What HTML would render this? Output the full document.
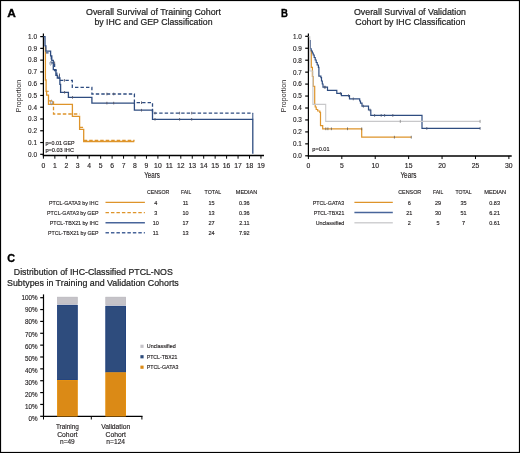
<!DOCTYPE html>
<html><head><meta charset="utf-8"><style>
html,body{margin:0;padding:0;background:#fff;}
body{width:520px;height:453px;overflow:hidden;}
svg{display:block;font-family:"Liberation Sans",sans-serif;will-change:transform;}
</style></head><body>
<svg width="520" height="453" viewBox="0 0 520 453">
<rect x="0" y="0" width="520" height="453" fill="#fff"/>
<text x="7.2" y="16.6" font-size="11.2" text-anchor="start" font-weight="bold" fill="#000" textLength="8.6" lengthAdjust="spacingAndGlyphs" stroke="#000" stroke-width="0.35">A</text>
<text x="281.0" y="17.2" font-size="11.2" text-anchor="start" font-weight="bold" fill="#000" textLength="6.9" lengthAdjust="spacingAndGlyphs" stroke="#000" stroke-width="0.35">B</text>
<text x="7.3" y="261.6" font-size="11.6" text-anchor="start" font-weight="bold" fill="#000" textLength="7.8" lengthAdjust="spacingAndGlyphs" stroke="#000" stroke-width="0.35">C</text>
<text x="86" y="14.8" font-size="9.4" text-anchor="start" font-weight="normal" fill="#1E1E1E" textLength="135" lengthAdjust="spacingAndGlyphs" stroke="#1E1E1E" stroke-width="0.22">Overall Survival of Training Cohort</text>
<text x="94.5" y="25.0" font-size="9.4" text-anchor="start" font-weight="normal" fill="#1E1E1E" textLength="118" lengthAdjust="spacingAndGlyphs" stroke="#1E1E1E" stroke-width="0.22">by IHC and GEP Classification</text>
<text x="354" y="14.6" font-size="9.4" text-anchor="start" font-weight="normal" fill="#1E1E1E" textLength="112" lengthAdjust="spacingAndGlyphs" stroke="#1E1E1E" stroke-width="0.22">Overall Survival of Validation</text>
<text x="355.3" y="24.8" font-size="9.4" text-anchor="start" font-weight="normal" fill="#1E1E1E" textLength="110" lengthAdjust="spacingAndGlyphs" stroke="#1E1E1E" stroke-width="0.22">Cohort by IHC Classification</text>
<text x="13.8" y="275.3" font-size="9.4" text-anchor="start" font-weight="normal" fill="#1E1E1E" textLength="159" lengthAdjust="spacingAndGlyphs" stroke="#1E1E1E" stroke-width="0.22">Distribution of IHC-Classified PTCL-NOS</text>
<text x="7.0" y="285.5" font-size="9.4" text-anchor="start" font-weight="normal" fill="#1E1E1E" textLength="171.8" lengthAdjust="spacingAndGlyphs" stroke="#1E1E1E" stroke-width="0.22">Subtypes in Training and Validation Cohorts</text>
<line x1="43.4" y1="33.6" x2="43.4" y2="156.3" stroke="#000" stroke-width="1.2" />
<line x1="40.199999999999996" y1="36.6" x2="43.4" y2="36.6" stroke="#000" stroke-width="1.2" />
<text x="37.0" y="38.95" font-size="7.2" text-anchor="end" font-weight="normal" fill="#231F20" textLength="8.9" lengthAdjust="spacingAndGlyphs" stroke="#231F20" stroke-width="0.15">1.0</text>
<line x1="40.199999999999996" y1="48.370000000000005" x2="43.4" y2="48.370000000000005" stroke="#000" stroke-width="1.2" />
<text x="37.0" y="50.720000000000006" font-size="7.2" text-anchor="end" font-weight="normal" fill="#231F20" textLength="8.9" lengthAdjust="spacingAndGlyphs" stroke="#231F20" stroke-width="0.15">0.9</text>
<line x1="40.199999999999996" y1="60.14" x2="43.4" y2="60.14" stroke="#000" stroke-width="1.2" />
<text x="37.0" y="62.49" font-size="7.2" text-anchor="end" font-weight="normal" fill="#231F20" textLength="8.9" lengthAdjust="spacingAndGlyphs" stroke="#231F20" stroke-width="0.15">0.8</text>
<line x1="40.199999999999996" y1="71.91" x2="43.4" y2="71.91" stroke="#000" stroke-width="1.2" />
<text x="37.0" y="74.25999999999999" font-size="7.2" text-anchor="end" font-weight="normal" fill="#231F20" textLength="8.9" lengthAdjust="spacingAndGlyphs" stroke="#231F20" stroke-width="0.15">0.7</text>
<line x1="40.199999999999996" y1="83.68" x2="43.4" y2="83.68" stroke="#000" stroke-width="1.2" />
<text x="37.0" y="86.03" font-size="7.2" text-anchor="end" font-weight="normal" fill="#231F20" textLength="8.9" lengthAdjust="spacingAndGlyphs" stroke="#231F20" stroke-width="0.15">0.6</text>
<line x1="40.199999999999996" y1="95.44999999999999" x2="43.4" y2="95.44999999999999" stroke="#000" stroke-width="1.2" />
<text x="37.0" y="97.79999999999998" font-size="7.2" text-anchor="end" font-weight="normal" fill="#231F20" textLength="8.9" lengthAdjust="spacingAndGlyphs" stroke="#231F20" stroke-width="0.15">0.5</text>
<line x1="40.199999999999996" y1="107.22" x2="43.4" y2="107.22" stroke="#000" stroke-width="1.2" />
<text x="37.0" y="109.57" font-size="7.2" text-anchor="end" font-weight="normal" fill="#231F20" textLength="8.9" lengthAdjust="spacingAndGlyphs" stroke="#231F20" stroke-width="0.15">0.4</text>
<line x1="40.199999999999996" y1="118.99000000000001" x2="43.4" y2="118.99000000000001" stroke="#000" stroke-width="1.2" />
<text x="37.0" y="121.34" font-size="7.2" text-anchor="end" font-weight="normal" fill="#231F20" textLength="8.9" lengthAdjust="spacingAndGlyphs" stroke="#231F20" stroke-width="0.15">0.3</text>
<line x1="40.199999999999996" y1="130.76" x2="43.4" y2="130.76" stroke="#000" stroke-width="1.2" />
<text x="37.0" y="133.10999999999999" font-size="7.2" text-anchor="end" font-weight="normal" fill="#231F20" textLength="8.9" lengthAdjust="spacingAndGlyphs" stroke="#231F20" stroke-width="0.15">0.2</text>
<line x1="40.199999999999996" y1="142.53" x2="43.4" y2="142.53" stroke="#000" stroke-width="1.2" />
<text x="37.0" y="144.88" font-size="7.2" text-anchor="end" font-weight="normal" fill="#231F20" textLength="8.9" lengthAdjust="spacingAndGlyphs" stroke="#231F20" stroke-width="0.15">0.1</text>
<line x1="40.199999999999996" y1="154.29999999999998" x2="43.4" y2="154.29999999999998" stroke="#000" stroke-width="1.2" />
<text x="37.0" y="156.64999999999998" font-size="7.2" text-anchor="end" font-weight="normal" fill="#231F20" textLength="8.9" lengthAdjust="spacingAndGlyphs" stroke="#231F20" stroke-width="0.15">0.0</text>
<line x1="42.8" y1="155.6" x2="264" y2="155.6" stroke="#000" stroke-width="1.5" />
<line x1="43.4" y1="155.6" x2="43.4" y2="158.7" stroke="#000" stroke-width="1.0" />
<text x="43.4" y="167.7" font-size="6.8" text-anchor="middle" font-weight="normal" fill="#231F20" stroke="#231F20" stroke-width="0.15">0</text>
<line x1="54.849999999999994" y1="155.6" x2="54.849999999999994" y2="158.7" stroke="#000" stroke-width="1.0" />
<text x="54.849999999999994" y="167.7" font-size="6.8" text-anchor="middle" font-weight="normal" fill="#231F20" stroke="#231F20" stroke-width="0.15">1</text>
<line x1="66.3" y1="155.6" x2="66.3" y2="158.7" stroke="#000" stroke-width="1.0" />
<text x="66.3" y="167.7" font-size="6.8" text-anchor="middle" font-weight="normal" fill="#231F20" stroke="#231F20" stroke-width="0.15">2</text>
<line x1="77.75" y1="155.6" x2="77.75" y2="158.7" stroke="#000" stroke-width="1.0" />
<text x="77.75" y="167.7" font-size="6.8" text-anchor="middle" font-weight="normal" fill="#231F20" stroke="#231F20" stroke-width="0.15">3</text>
<line x1="89.19999999999999" y1="155.6" x2="89.19999999999999" y2="158.7" stroke="#000" stroke-width="1.0" />
<text x="89.19999999999999" y="167.7" font-size="6.8" text-anchor="middle" font-weight="normal" fill="#231F20" stroke="#231F20" stroke-width="0.15">4</text>
<line x1="100.65" y1="155.6" x2="100.65" y2="158.7" stroke="#000" stroke-width="1.0" />
<text x="100.65" y="167.7" font-size="6.8" text-anchor="middle" font-weight="normal" fill="#231F20" stroke="#231F20" stroke-width="0.15">5</text>
<line x1="112.1" y1="155.6" x2="112.1" y2="158.7" stroke="#000" stroke-width="1.0" />
<text x="112.1" y="167.7" font-size="6.8" text-anchor="middle" font-weight="normal" fill="#231F20" stroke="#231F20" stroke-width="0.15">6</text>
<line x1="123.54999999999998" y1="155.6" x2="123.54999999999998" y2="158.7" stroke="#000" stroke-width="1.0" />
<text x="123.54999999999998" y="167.7" font-size="6.8" text-anchor="middle" font-weight="normal" fill="#231F20" stroke="#231F20" stroke-width="0.15">7</text>
<line x1="135.0" y1="155.6" x2="135.0" y2="158.7" stroke="#000" stroke-width="1.0" />
<text x="135.0" y="167.7" font-size="6.8" text-anchor="middle" font-weight="normal" fill="#231F20" stroke="#231F20" stroke-width="0.15">8</text>
<line x1="146.45" y1="155.6" x2="146.45" y2="158.7" stroke="#000" stroke-width="1.0" />
<text x="146.45" y="167.7" font-size="6.8" text-anchor="middle" font-weight="normal" fill="#231F20" stroke="#231F20" stroke-width="0.15">9</text>
<line x1="157.9" y1="155.6" x2="157.9" y2="158.7" stroke="#000" stroke-width="1.0" />
<text x="157.9" y="167.7" font-size="6.8" text-anchor="middle" font-weight="normal" fill="#231F20" stroke="#231F20" stroke-width="0.15">10</text>
<line x1="169.35" y1="155.6" x2="169.35" y2="158.7" stroke="#000" stroke-width="1.0" />
<text x="169.35" y="167.7" font-size="6.8" text-anchor="middle" font-weight="normal" fill="#231F20" stroke="#231F20" stroke-width="0.15">11</text>
<line x1="180.79999999999998" y1="155.6" x2="180.79999999999998" y2="158.7" stroke="#000" stroke-width="1.0" />
<text x="180.79999999999998" y="167.7" font-size="6.8" text-anchor="middle" font-weight="normal" fill="#231F20" stroke="#231F20" stroke-width="0.15">12</text>
<line x1="192.25" y1="155.6" x2="192.25" y2="158.7" stroke="#000" stroke-width="1.0" />
<text x="192.25" y="167.7" font-size="6.8" text-anchor="middle" font-weight="normal" fill="#231F20" stroke="#231F20" stroke-width="0.15">13</text>
<line x1="203.7" y1="155.6" x2="203.7" y2="158.7" stroke="#000" stroke-width="1.0" />
<text x="203.7" y="167.7" font-size="6.8" text-anchor="middle" font-weight="normal" fill="#231F20" stroke="#231F20" stroke-width="0.15">14</text>
<line x1="215.15" y1="155.6" x2="215.15" y2="158.7" stroke="#000" stroke-width="1.0" />
<text x="215.15" y="167.7" font-size="6.8" text-anchor="middle" font-weight="normal" fill="#231F20" stroke="#231F20" stroke-width="0.15">15</text>
<line x1="226.6" y1="155.6" x2="226.6" y2="158.7" stroke="#000" stroke-width="1.0" />
<text x="226.6" y="167.7" font-size="6.8" text-anchor="middle" font-weight="normal" fill="#231F20" stroke="#231F20" stroke-width="0.15">16</text>
<line x1="238.04999999999998" y1="155.6" x2="238.04999999999998" y2="158.7" stroke="#000" stroke-width="1.0" />
<text x="238.04999999999998" y="167.7" font-size="6.8" text-anchor="middle" font-weight="normal" fill="#231F20" stroke="#231F20" stroke-width="0.15">17</text>
<line x1="249.5" y1="155.6" x2="249.5" y2="158.7" stroke="#000" stroke-width="1.0" />
<text x="249.5" y="167.7" font-size="6.8" text-anchor="middle" font-weight="normal" fill="#231F20" stroke="#231F20" stroke-width="0.15">18</text>
<line x1="260.95" y1="155.6" x2="260.95" y2="158.7" stroke="#000" stroke-width="1.0" />
<text x="260.95" y="167.7" font-size="6.8" text-anchor="middle" font-weight="normal" fill="#231F20" stroke="#231F20" stroke-width="0.15">19</text>
<text x="0" y="0" font-size="7.7" fill="#231F20" text-anchor="middle" transform="translate(21.3,96) rotate(-90)" textLength="32.3" lengthAdjust="spacingAndGlyphs">Proportion</text>
<text x="152.0" y="177.6" font-size="8.3" text-anchor="middle" font-weight="normal" fill="#231F20" textLength="15.7" lengthAdjust="spacingAndGlyphs" stroke="#231F20" stroke-width="0.15">Years</text>
<line x1="308.4" y1="33.6" x2="308.4" y2="156.3" stroke="#000" stroke-width="1.2" />
<line x1="305.2" y1="36.3" x2="308.4" y2="36.3" stroke="#000" stroke-width="1.2" />
<text x="301.9" y="38.65" font-size="7.2" text-anchor="end" font-weight="normal" fill="#231F20" textLength="8.9" lengthAdjust="spacingAndGlyphs" stroke="#231F20" stroke-width="0.15">1.0</text>
<line x1="305.2" y1="48.25" x2="308.4" y2="48.25" stroke="#000" stroke-width="1.2" />
<text x="301.9" y="50.6" font-size="7.2" text-anchor="end" font-weight="normal" fill="#231F20" textLength="8.9" lengthAdjust="spacingAndGlyphs" stroke="#231F20" stroke-width="0.15">0.9</text>
<line x1="305.2" y1="60.199999999999996" x2="308.4" y2="60.199999999999996" stroke="#000" stroke-width="1.2" />
<text x="301.9" y="62.55" font-size="7.2" text-anchor="end" font-weight="normal" fill="#231F20" textLength="8.9" lengthAdjust="spacingAndGlyphs" stroke="#231F20" stroke-width="0.15">0.8</text>
<line x1="305.2" y1="72.14999999999999" x2="308.4" y2="72.14999999999999" stroke="#000" stroke-width="1.2" />
<text x="301.9" y="74.49999999999999" font-size="7.2" text-anchor="end" font-weight="normal" fill="#231F20" textLength="8.9" lengthAdjust="spacingAndGlyphs" stroke="#231F20" stroke-width="0.15">0.7</text>
<line x1="305.2" y1="84.1" x2="308.4" y2="84.1" stroke="#000" stroke-width="1.2" />
<text x="301.9" y="86.44999999999999" font-size="7.2" text-anchor="end" font-weight="normal" fill="#231F20" textLength="8.9" lengthAdjust="spacingAndGlyphs" stroke="#231F20" stroke-width="0.15">0.6</text>
<line x1="305.2" y1="96.05" x2="308.4" y2="96.05" stroke="#000" stroke-width="1.2" />
<text x="301.9" y="98.39999999999999" font-size="7.2" text-anchor="end" font-weight="normal" fill="#231F20" textLength="8.9" lengthAdjust="spacingAndGlyphs" stroke="#231F20" stroke-width="0.15">0.5</text>
<line x1="305.2" y1="107.99999999999999" x2="308.4" y2="107.99999999999999" stroke="#000" stroke-width="1.2" />
<text x="301.9" y="110.34999999999998" font-size="7.2" text-anchor="end" font-weight="normal" fill="#231F20" textLength="8.9" lengthAdjust="spacingAndGlyphs" stroke="#231F20" stroke-width="0.15">0.4</text>
<line x1="305.2" y1="119.94999999999999" x2="308.4" y2="119.94999999999999" stroke="#000" stroke-width="1.2" />
<text x="301.9" y="122.29999999999998" font-size="7.2" text-anchor="end" font-weight="normal" fill="#231F20" textLength="8.9" lengthAdjust="spacingAndGlyphs" stroke="#231F20" stroke-width="0.15">0.3</text>
<line x1="305.2" y1="131.89999999999998" x2="308.4" y2="131.89999999999998" stroke="#000" stroke-width="1.2" />
<text x="301.9" y="134.24999999999997" font-size="7.2" text-anchor="end" font-weight="normal" fill="#231F20" textLength="8.9" lengthAdjust="spacingAndGlyphs" stroke="#231F20" stroke-width="0.15">0.2</text>
<line x1="305.2" y1="143.85" x2="308.4" y2="143.85" stroke="#000" stroke-width="1.2" />
<text x="301.9" y="146.2" font-size="7.2" text-anchor="end" font-weight="normal" fill="#231F20" textLength="8.9" lengthAdjust="spacingAndGlyphs" stroke="#231F20" stroke-width="0.15">0.1</text>
<line x1="305.2" y1="155.8" x2="308.4" y2="155.8" stroke="#000" stroke-width="1.2" />
<text x="301.9" y="158.15" font-size="7.2" text-anchor="end" font-weight="normal" fill="#231F20" textLength="8.9" lengthAdjust="spacingAndGlyphs" stroke="#231F20" stroke-width="0.15">0.0</text>
<line x1="307.79999999999995" y1="155.95" x2="511.7" y2="155.95" stroke="#000" stroke-width="1.5" />
<line x1="308.4" y1="155.95" x2="308.4" y2="159.04999999999998" stroke="#000" stroke-width="1.0" />
<text x="308.4" y="167.7" font-size="6.8" text-anchor="middle" font-weight="normal" fill="#231F20" stroke="#231F20" stroke-width="0.15">0</text>
<line x1="341.815" y1="155.95" x2="341.815" y2="159.04999999999998" stroke="#000" stroke-width="1.0" />
<text x="341.815" y="167.7" font-size="6.8" text-anchor="middle" font-weight="normal" fill="#231F20" stroke="#231F20" stroke-width="0.15">5</text>
<line x1="375.22999999999996" y1="155.95" x2="375.22999999999996" y2="159.04999999999998" stroke="#000" stroke-width="1.0" />
<text x="375.22999999999996" y="167.7" font-size="6.8" text-anchor="middle" font-weight="normal" fill="#231F20" stroke="#231F20" stroke-width="0.15">10</text>
<line x1="408.645" y1="155.95" x2="408.645" y2="159.04999999999998" stroke="#000" stroke-width="1.0" />
<text x="408.645" y="167.7" font-size="6.8" text-anchor="middle" font-weight="normal" fill="#231F20" stroke="#231F20" stroke-width="0.15">15</text>
<line x1="442.05999999999995" y1="155.95" x2="442.05999999999995" y2="159.04999999999998" stroke="#000" stroke-width="1.0" />
<text x="442.05999999999995" y="167.7" font-size="6.8" text-anchor="middle" font-weight="normal" fill="#231F20" stroke="#231F20" stroke-width="0.15">20</text>
<line x1="475.47499999999997" y1="155.95" x2="475.47499999999997" y2="159.04999999999998" stroke="#000" stroke-width="1.0" />
<text x="475.47499999999997" y="167.7" font-size="6.8" text-anchor="middle" font-weight="normal" fill="#231F20" stroke="#231F20" stroke-width="0.15">25</text>
<line x1="508.89" y1="155.95" x2="508.89" y2="159.04999999999998" stroke="#000" stroke-width="1.0" />
<text x="508.89" y="167.7" font-size="6.8" text-anchor="middle" font-weight="normal" fill="#231F20" stroke="#231F20" stroke-width="0.15">30</text>
<text x="0" y="0" font-size="7.7" fill="#231F20" text-anchor="middle" transform="translate(286.3,96) rotate(-90)" textLength="32.3" lengthAdjust="spacingAndGlyphs">Proportion</text>
<text x="408.5" y="177.6" font-size="8.3" text-anchor="middle" font-weight="normal" fill="#231F20" textLength="16.1" lengthAdjust="spacingAndGlyphs" stroke="#231F20" stroke-width="0.15">Years</text>
<path d="M45.4,46.5 V80 H46.1 V91.3 H46.6 V95.1 H48.5 V104.4 H72.4 V116.4 H79.6 V129.4 H83.7 V141.5 H134.3" fill="none" stroke="#DE942A" stroke-width="1.3" />
<line x1="46.1" y1="91.3" x2="48.8" y2="91.3" stroke="#DE942A" stroke-width="1.0" />
<ellipse cx="51.6" cy="102.4" rx="0.9" ry="2.2" fill="none" stroke="#7A8599" stroke-width="0.9"/>
<path d="M48.5,100.8 H53.5 V114.0 H79.6" fill="none" stroke="#DE942A" stroke-width="1.3" stroke-dasharray="3.5,2"/>
<path d="M79.6,127.3 H83.7 M83.7,140.5 H134.6" fill="none" stroke="#DE942A" stroke-width="1.3" stroke-dasharray="3.5,2"/>
<path d="M43.4,36.6 H45.0 V45.9 H45.9 V51.1 H50.6 V55.9 H51.8 V60.4 H53.3 V69.6 H55.9 V75.4 H57.3 V78.0 H59.9 V84.3 H60.6 V92.3 H68.4 V97.4 H91.9 V103.1 H134.4 V110.2 H152.5 V119.3 H252.8 V153.7" fill="none" stroke="#2E4C80" stroke-width="1.3" />
<line x1="252.8" y1="113.0" x2="252.8" y2="119.3" stroke="#2E4C80" stroke-width="1.0" />
<path d="M45.9,52.8 H48.6 M51.3,56 V62.8 H54.6 V70.5 H56.8 V76 H59.2 V80.4 H72.3 V87.3 H91.9 V94.0 H134.4 V102.7  H152.5 V113.1 H253.1" fill="none" stroke="#2E4C80" stroke-width="1.3" stroke-dasharray="3.4,2.1"/>
<ellipse cx="50.6" cy="63.4" rx="0.8" ry="1.8" fill="none" stroke="#8A93A3" stroke-width="0.8"/>
<line x1="54.6" y1="61.5" x2="54.6" y2="64.1" stroke="#556" stroke-width="0.9" />
<line x1="59.5" y1="73.5" x2="59.5" y2="76.1" stroke="#556" stroke-width="0.9" />
<line x1="64.4" y1="79.10000000000001" x2="64.4" y2="81.7" stroke="#556" stroke-width="0.9" />
<line x1="64.6" y1="91.0" x2="64.6" y2="93.6" stroke="#556" stroke-width="0.9" />
<line x1="72.5" y1="96.10000000000001" x2="72.5" y2="98.7" stroke="#556" stroke-width="0.9" />
<line x1="106.9" y1="101.8" x2="106.9" y2="104.39999999999999" stroke="#556" stroke-width="0.9" />
<line x1="113.7" y1="101.8" x2="113.7" y2="104.39999999999999" stroke="#556" stroke-width="0.9" />
<line x1="141.5" y1="108.9" x2="141.5" y2="111.5" stroke="#556" stroke-width="0.9" />
<line x1="155" y1="118.0" x2="155" y2="120.6" stroke="#556" stroke-width="0.9" />
<line x1="179.6" y1="118.0" x2="179.6" y2="120.6" stroke="#556" stroke-width="0.9" />
<line x1="191.7" y1="118.0" x2="191.7" y2="120.6" stroke="#556" stroke-width="0.9" />
<line x1="106.9" y1="92.7" x2="106.9" y2="95.3" stroke="#556" stroke-width="0.9" />
<line x1="113.7" y1="92.7" x2="113.7" y2="95.3" stroke="#556" stroke-width="0.9" />
<line x1="141.5" y1="101.4" x2="141.5" y2="104.0" stroke="#556" stroke-width="0.9" />
<line x1="155" y1="111.8" x2="155" y2="114.39999999999999" stroke="#556" stroke-width="0.9" />
<line x1="179.6" y1="111.8" x2="179.6" y2="114.39999999999999" stroke="#556" stroke-width="0.9" />
<line x1="191.7" y1="111.8" x2="191.7" y2="114.39999999999999" stroke="#556" stroke-width="0.9" />
<text x="45.4" y="145.0" font-size="5.1" text-anchor="start" font-weight="normal" fill="#231F20" textLength="29.2" lengthAdjust="spacingAndGlyphs" stroke="#231F20" stroke-width="0.15">p=0.01 GEP</text>
<text x="45.4" y="152.2" font-size="5.1" text-anchor="start" font-weight="normal" fill="#231F20" textLength="28.6" lengthAdjust="spacingAndGlyphs" stroke="#231F20" stroke-width="0.15">p=0.03 IHC</text>
<path d="M310.2,50.6 H311.3 V67.3 H312.4 V76.5 H313.3 V86.4 H314.7 V104.3 H315.2 V107 H316.2 V109.5 H317.7 V111 H319.8 V112.3 H320.5 V125.6 H322.7 V128.8 H361.7 V137.2 H411.3" fill="none" stroke="#DE942A" stroke-width="1.2" />
<line x1="325.8" y1="127.4" x2="325.8" y2="130.20000000000002" stroke="#555" stroke-width="0.7" />
<line x1="327.9" y1="127.4" x2="327.9" y2="130.20000000000002" stroke="#555" stroke-width="0.7" />
<line x1="331.4" y1="127.4" x2="331.4" y2="130.20000000000002" stroke="#555" stroke-width="0.7" />
<line x1="347.5" y1="127.4" x2="347.5" y2="130.20000000000002" stroke="#555" stroke-width="0.7" />
<line x1="361.7" y1="127.4" x2="361.7" y2="130.20000000000002" stroke="#555" stroke-width="0.7" />
<line x1="394.4" y1="135.79999999999998" x2="394.4" y2="138.6" stroke="#555" stroke-width="0.7" />
<line x1="411.3" y1="135.79999999999998" x2="411.3" y2="138.6" stroke="#555" stroke-width="0.7" />
<path d="M310.3,40 V48.8 H311.2 V51 H312.3 V53 H313.2 V55 H314.2 V57.5 H315.2 V60 H316.2 V62.5 H317.2 V65 H318.4 V67.4 H318.9 V76.2 H320.9 V77.6 H321.5 V81 H322.3 V84 H323.0 V87.2 H327.5 V90.3 H336.8 V93.4 H341.4 V95.7 H349.5 V98.9 H359.7 V101 H360.5 V103.1 H362.0 V106.2 H368.5 V110 H370.8 V115.4 H422.0 V128.4 H480.1" fill="none" stroke="#2E4C80" stroke-width="1.2" />
<line x1="324.4" y1="85.8" x2="324.4" y2="88.60000000000001" stroke="#4A5570" stroke-width="0.8" />
<line x1="325.3" y1="85.8" x2="325.3" y2="88.60000000000001" stroke="#4A5570" stroke-width="0.8" />
<line x1="340.4" y1="92.0" x2="340.4" y2="94.80000000000001" stroke="#4A5570" stroke-width="0.8" />
<line x1="348.5" y1="94.3" x2="348.5" y2="97.10000000000001" stroke="#4A5570" stroke-width="0.8" />
<line x1="353.3" y1="97.5" x2="353.3" y2="100.30000000000001" stroke="#4A5570" stroke-width="0.8" />
<line x1="363.4" y1="104.8" x2="363.4" y2="107.60000000000001" stroke="#4A5570" stroke-width="0.8" />
<line x1="370.0" y1="108.6" x2="370.0" y2="111.4" stroke="#4A5570" stroke-width="0.8" />
<line x1="374.6" y1="114.0" x2="374.6" y2="116.80000000000001" stroke="#4A5570" stroke-width="0.8" />
<line x1="381.2" y1="114.0" x2="381.2" y2="116.80000000000001" stroke="#4A5570" stroke-width="0.8" />
<line x1="384.6" y1="114.0" x2="384.6" y2="116.80000000000001" stroke="#4A5570" stroke-width="0.8" />
<line x1="392.8" y1="114.0" x2="392.8" y2="116.80000000000001" stroke="#4A5570" stroke-width="0.8" />
<line x1="426.8" y1="127.0" x2="426.8" y2="129.8" stroke="#4A5570" stroke-width="0.8" />
<line x1="480.1" y1="127.0" x2="480.1" y2="129.8" stroke="#4A5570" stroke-width="0.8" />
<path d="M308.4,36.8 H309.8 V71.0 H312.9 V104.4 H325.7 V121.4 H480.1" fill="none" stroke="#C8C8CA" stroke-width="1.1" />
<line x1="400.3" y1="119.9" x2="400.3" y2="122.9" stroke="#888" stroke-width="0.8" />
<line x1="480.1" y1="119.9" x2="480.1" y2="122.9" stroke="#888" stroke-width="0.8" />
<text x="312.3" y="150.7" font-size="5.3" text-anchor="start" font-weight="normal" fill="#231F20" textLength="17.3" lengthAdjust="spacingAndGlyphs" stroke="#231F20" stroke-width="0.15">p=0.01</text>
<text x="158.1" y="194.1" font-size="5.9" text-anchor="middle" font-weight="normal" fill="#231F20" textLength="22.4" lengthAdjust="spacingAndGlyphs" stroke="#231F20" stroke-width="0.15">CENSOR</text>
<text x="186.1" y="194.1" font-size="5.9" text-anchor="middle" font-weight="normal" fill="#231F20" textLength="10.1" lengthAdjust="spacingAndGlyphs" stroke="#231F20" stroke-width="0.15">FAIL</text>
<text x="212.9" y="194.1" font-size="5.9" text-anchor="middle" font-weight="normal" fill="#231F20" textLength="16.6" lengthAdjust="spacingAndGlyphs" stroke="#231F20" stroke-width="0.15">TOTAL</text>
<text x="246.5" y="194.1" font-size="5.9" text-anchor="middle" font-weight="normal" fill="#231F20" textLength="21.4" lengthAdjust="spacingAndGlyphs" stroke="#231F20" stroke-width="0.15">MEDIAN</text>
<text x="98.5" y="204.5" font-size="5.9" text-anchor="end" font-weight="normal" fill="#231F20" textLength="49.6" lengthAdjust="spacingAndGlyphs" stroke="#231F20" stroke-width="0.15">PTCL-GATA3 by IHC</text>
<path d="M105.5,202.4 H144.9" fill="none" stroke="#DE942A" stroke-width="1.3" />
<text x="155.7" y="204.5" font-size="5.9" text-anchor="middle" font-weight="normal" fill="#231F20" textLength="3.06" lengthAdjust="spacingAndGlyphs" stroke="#231F20" stroke-width="0.15">4</text>
<text x="185.5" y="204.5" font-size="5.9" text-anchor="middle" font-weight="normal" fill="#231F20" textLength="5.71" lengthAdjust="spacingAndGlyphs" stroke="#231F20" stroke-width="0.15">11</text>
<text x="211.5" y="204.5" font-size="5.9" text-anchor="middle" font-weight="normal" fill="#231F20" textLength="6.12" lengthAdjust="spacingAndGlyphs" stroke="#231F20" stroke-width="0.15">15</text>
<text x="244.3" y="204.5" font-size="5.9" text-anchor="middle" font-weight="normal" fill="#231F20" textLength="10.7" lengthAdjust="spacingAndGlyphs" stroke="#231F20" stroke-width="0.15">0.36</text>
<text x="98.5" y="214.63" font-size="5.9" text-anchor="end" font-weight="normal" fill="#231F20" textLength="51.4" lengthAdjust="spacingAndGlyphs" stroke="#231F20" stroke-width="0.15">PTCL-GATA3 by GEP</text>
<path d="M105.5,212.53 H144.9" fill="none" stroke="#DE942A" stroke-width="1.3" stroke-dasharray="3.45,2.02"/>
<text x="155.7" y="214.63" font-size="5.9" text-anchor="middle" font-weight="normal" fill="#231F20" textLength="3.06" lengthAdjust="spacingAndGlyphs" stroke="#231F20" stroke-width="0.15">3</text>
<text x="185.5" y="214.63" font-size="5.9" text-anchor="middle" font-weight="normal" fill="#231F20" textLength="6.12" lengthAdjust="spacingAndGlyphs" stroke="#231F20" stroke-width="0.15">10</text>
<text x="211.5" y="214.63" font-size="5.9" text-anchor="middle" font-weight="normal" fill="#231F20" textLength="6.12" lengthAdjust="spacingAndGlyphs" stroke="#231F20" stroke-width="0.15">13</text>
<text x="244.3" y="214.63" font-size="5.9" text-anchor="middle" font-weight="normal" fill="#231F20" textLength="10.7" lengthAdjust="spacingAndGlyphs" stroke="#231F20" stroke-width="0.15">0.36</text>
<text x="98.5" y="224.76" font-size="5.9" text-anchor="end" font-weight="normal" fill="#231F20" textLength="48.7" lengthAdjust="spacingAndGlyphs" stroke="#231F20" stroke-width="0.15">PTCL-TBX21 by IHC</text>
<path d="M105.5,222.66 H144.9" fill="none" stroke="#48659A" stroke-width="1.45" />
<text x="155.7" y="224.76" font-size="5.9" text-anchor="middle" font-weight="normal" fill="#231F20" textLength="6.12" lengthAdjust="spacingAndGlyphs" stroke="#231F20" stroke-width="0.15">10</text>
<text x="185.5" y="224.76" font-size="5.9" text-anchor="middle" font-weight="normal" fill="#231F20" textLength="6.12" lengthAdjust="spacingAndGlyphs" stroke="#231F20" stroke-width="0.15">17</text>
<text x="211.5" y="224.76" font-size="5.9" text-anchor="middle" font-weight="normal" fill="#231F20" textLength="6.12" lengthAdjust="spacingAndGlyphs" stroke="#231F20" stroke-width="0.15">27</text>
<text x="244.3" y="224.76" font-size="5.9" text-anchor="middle" font-weight="normal" fill="#231F20" textLength="10.3" lengthAdjust="spacingAndGlyphs" stroke="#231F20" stroke-width="0.15">2.11</text>
<text x="98.5" y="234.89000000000001" font-size="5.9" text-anchor="end" font-weight="normal" fill="#231F20" textLength="50.5" lengthAdjust="spacingAndGlyphs" stroke="#231F20" stroke-width="0.15">PTCL-TBX21 by GEP</text>
<path d="M105.5,232.79000000000002 H144.9" fill="none" stroke="#48659A" stroke-width="1.45" stroke-dasharray="3.45,2.02"/>
<text x="155.7" y="234.89000000000001" font-size="5.9" text-anchor="middle" font-weight="normal" fill="#231F20" textLength="5.71" lengthAdjust="spacingAndGlyphs" stroke="#231F20" stroke-width="0.15">11</text>
<text x="185.5" y="234.89000000000001" font-size="5.9" text-anchor="middle" font-weight="normal" fill="#231F20" textLength="6.12" lengthAdjust="spacingAndGlyphs" stroke="#231F20" stroke-width="0.15">13</text>
<text x="211.5" y="234.89000000000001" font-size="5.9" text-anchor="middle" font-weight="normal" fill="#231F20" textLength="6.12" lengthAdjust="spacingAndGlyphs" stroke="#231F20" stroke-width="0.15">24</text>
<text x="244.3" y="234.89000000000001" font-size="5.9" text-anchor="middle" font-weight="normal" fill="#231F20" textLength="10.7" lengthAdjust="spacingAndGlyphs" stroke="#231F20" stroke-width="0.15">7.92</text>
<text x="409.7" y="194.1" font-size="5.9" text-anchor="middle" font-weight="normal" fill="#231F20" textLength="23.1" lengthAdjust="spacingAndGlyphs" stroke="#231F20" stroke-width="0.15">CENSOR</text>
<text x="438.1" y="194.1" font-size="5.9" text-anchor="middle" font-weight="normal" fill="#231F20" textLength="10.2" lengthAdjust="spacingAndGlyphs" stroke="#231F20" stroke-width="0.15">FAIL</text>
<text x="463.5" y="194.1" font-size="5.9" text-anchor="middle" font-weight="normal" fill="#231F20" textLength="16.1" lengthAdjust="spacingAndGlyphs" stroke="#231F20" stroke-width="0.15">TOTAL</text>
<text x="495.2" y="194.1" font-size="5.9" text-anchor="middle" font-weight="normal" fill="#231F20" textLength="22.0" lengthAdjust="spacingAndGlyphs" stroke="#231F20" stroke-width="0.15">MEDIAN</text>
<text x="344.3" y="204.5" font-size="5.9" text-anchor="end" font-weight="normal" fill="#231F20" textLength="31.6" lengthAdjust="spacingAndGlyphs" stroke="#231F20" stroke-width="0.15">PTCL-GATA3</text>
<path d="M354.4,202.4 H392.8" fill="none" stroke="#DE942A" stroke-width="1.3" />
<text x="409.2" y="204.5" font-size="5.9" text-anchor="middle" font-weight="normal" fill="#231F20" textLength="3.06" lengthAdjust="spacingAndGlyphs" stroke="#231F20" stroke-width="0.15">6</text>
<text x="438.1" y="204.5" font-size="5.9" text-anchor="middle" font-weight="normal" fill="#231F20" textLength="6.12" lengthAdjust="spacingAndGlyphs" stroke="#231F20" stroke-width="0.15">29</text>
<text x="463.5" y="204.5" font-size="5.9" text-anchor="middle" font-weight="normal" fill="#231F20" textLength="6.12" lengthAdjust="spacingAndGlyphs" stroke="#231F20" stroke-width="0.15">35</text>
<text x="494.6" y="204.5" font-size="5.9" text-anchor="middle" font-weight="normal" fill="#231F20" textLength="10.7" lengthAdjust="spacingAndGlyphs" stroke="#231F20" stroke-width="0.15">0.83</text>
<text x="344.3" y="214.65" font-size="5.9" text-anchor="end" font-weight="normal" fill="#231F20" textLength="30.5" lengthAdjust="spacingAndGlyphs" stroke="#231F20" stroke-width="0.15">PTCL-TBX21</text>
<path d="M354.4,212.55 H392.8" fill="none" stroke="#48659A" stroke-width="1.45" />
<text x="409.2" y="214.65" font-size="5.9" text-anchor="middle" font-weight="normal" fill="#231F20" textLength="6.12" lengthAdjust="spacingAndGlyphs" stroke="#231F20" stroke-width="0.15">21</text>
<text x="438.1" y="214.65" font-size="5.9" text-anchor="middle" font-weight="normal" fill="#231F20" textLength="6.12" lengthAdjust="spacingAndGlyphs" stroke="#231F20" stroke-width="0.15">30</text>
<text x="463.5" y="214.65" font-size="5.9" text-anchor="middle" font-weight="normal" fill="#231F20" textLength="6.12" lengthAdjust="spacingAndGlyphs" stroke="#231F20" stroke-width="0.15">51</text>
<text x="494.6" y="214.65" font-size="5.9" text-anchor="middle" font-weight="normal" fill="#231F20" textLength="10.7" lengthAdjust="spacingAndGlyphs" stroke="#231F20" stroke-width="0.15">6.21</text>
<text x="344.3" y="224.8" font-size="5.9" text-anchor="end" font-weight="normal" fill="#231F20" textLength="28.6" lengthAdjust="spacingAndGlyphs" stroke="#231F20" stroke-width="0.15">Unclassified</text>
<path d="M354.4,222.70000000000002 H392.8" fill="none" stroke="#D0D0D2" stroke-width="1.6" />
<text x="409.2" y="224.8" font-size="5.9" text-anchor="middle" font-weight="normal" fill="#231F20" textLength="3.06" lengthAdjust="spacingAndGlyphs" stroke="#231F20" stroke-width="0.15">2</text>
<text x="438.1" y="224.8" font-size="5.9" text-anchor="middle" font-weight="normal" fill="#231F20" textLength="3.06" lengthAdjust="spacingAndGlyphs" stroke="#231F20" stroke-width="0.15">5</text>
<text x="463.5" y="224.8" font-size="5.9" text-anchor="middle" font-weight="normal" fill="#231F20" textLength="3.06" lengthAdjust="spacingAndGlyphs" stroke="#231F20" stroke-width="0.15">7</text>
<text x="494.6" y="224.8" font-size="5.9" text-anchor="middle" font-weight="normal" fill="#231F20" textLength="10.7" lengthAdjust="spacingAndGlyphs" stroke="#231F20" stroke-width="0.15">0.61</text>
<line x1="43.5" y1="294.4" x2="43.5" y2="416.8" stroke="#000" stroke-width="1.2" />
<line x1="40.2" y1="297.7" x2="43.5" y2="297.7" stroke="#000" stroke-width="1.2" />
<text x="37.6" y="300.35" font-size="6.9" text-anchor="end" font-weight="normal" fill="#231F20" textLength="16.11" lengthAdjust="spacingAndGlyphs" stroke="#231F20" stroke-width="0.15">100%</text>
<line x1="40.2" y1="309.56" x2="43.5" y2="309.56" stroke="#000" stroke-width="1.2" />
<text x="37.6" y="312.42" font-size="6.9" text-anchor="end" font-weight="normal" fill="#231F20" textLength="12.61" lengthAdjust="spacingAndGlyphs" stroke="#231F20" stroke-width="0.15">90%</text>
<line x1="40.2" y1="321.41999999999996" x2="43.5" y2="321.41999999999996" stroke="#000" stroke-width="1.2" />
<text x="37.6" y="324.49" font-size="6.9" text-anchor="end" font-weight="normal" fill="#231F20" textLength="12.61" lengthAdjust="spacingAndGlyphs" stroke="#231F20" stroke-width="0.15">80%</text>
<line x1="40.2" y1="333.28" x2="43.5" y2="333.28" stroke="#000" stroke-width="1.2" />
<text x="37.6" y="336.56" font-size="6.9" text-anchor="end" font-weight="normal" fill="#231F20" textLength="12.61" lengthAdjust="spacingAndGlyphs" stroke="#231F20" stroke-width="0.15">70%</text>
<line x1="40.2" y1="345.14" x2="43.5" y2="345.14" stroke="#000" stroke-width="1.2" />
<text x="37.6" y="348.63" font-size="6.9" text-anchor="end" font-weight="normal" fill="#231F20" textLength="12.61" lengthAdjust="spacingAndGlyphs" stroke="#231F20" stroke-width="0.15">60%</text>
<line x1="40.2" y1="357.0" x2="43.5" y2="357.0" stroke="#000" stroke-width="1.2" />
<text x="37.6" y="360.70000000000005" font-size="6.9" text-anchor="end" font-weight="normal" fill="#231F20" textLength="12.61" lengthAdjust="spacingAndGlyphs" stroke="#231F20" stroke-width="0.15">50%</text>
<line x1="40.2" y1="368.86" x2="43.5" y2="368.86" stroke="#000" stroke-width="1.2" />
<text x="37.6" y="372.77000000000004" font-size="6.9" text-anchor="end" font-weight="normal" fill="#231F20" textLength="12.61" lengthAdjust="spacingAndGlyphs" stroke="#231F20" stroke-width="0.15">40%</text>
<line x1="40.2" y1="380.71999999999997" x2="43.5" y2="380.71999999999997" stroke="#000" stroke-width="1.2" />
<text x="37.6" y="384.84000000000003" font-size="6.9" text-anchor="end" font-weight="normal" fill="#231F20" textLength="12.61" lengthAdjust="spacingAndGlyphs" stroke="#231F20" stroke-width="0.15">30%</text>
<line x1="40.2" y1="392.58" x2="43.5" y2="392.58" stroke="#000" stroke-width="1.2" />
<text x="37.6" y="396.91" font-size="6.9" text-anchor="end" font-weight="normal" fill="#231F20" textLength="12.61" lengthAdjust="spacingAndGlyphs" stroke="#231F20" stroke-width="0.15">20%</text>
<line x1="40.2" y1="404.44" x2="43.5" y2="404.44" stroke="#000" stroke-width="1.2" />
<text x="37.6" y="408.98" font-size="6.9" text-anchor="end" font-weight="normal" fill="#231F20" textLength="12.61" lengthAdjust="spacingAndGlyphs" stroke="#231F20" stroke-width="0.15">10%</text>
<line x1="40.2" y1="416.29999999999995" x2="43.5" y2="416.29999999999995" stroke="#000" stroke-width="1.2" />
<text x="37.6" y="421.05" font-size="6.9" text-anchor="end" font-weight="normal" fill="#231F20" textLength="9.11" lengthAdjust="spacingAndGlyphs" stroke="#231F20" stroke-width="0.15">0%</text>
<line x1="42.9" y1="416.3" x2="142.5" y2="416.3" stroke="#000" stroke-width="1.3" />
<line x1="43.5" y1="416.3" x2="43.5" y2="419.5" stroke="#000" stroke-width="1.0" />
<line x1="91.3" y1="416.3" x2="91.3" y2="419.5" stroke="#000" stroke-width="1.0" />
<line x1="141.9" y1="416.3" x2="141.9" y2="419.5" stroke="#000" stroke-width="1.0" />
<rect x="57.2" y="296.9" width="20.4" height="7.1" fill="#C5C3C8"/>
<rect x="57.55" y="297.25" width="19.70" height="6.40" fill="none" stroke="#C0BEC3" stroke-width="0.7"/>
<rect x="57.2" y="304.0" width="20.4" height="0.9" fill="#E6E2E2"/>
<rect x="57.2" y="304.9" width="20.4" height="75.20000000000005" fill="#2E4C7D"/>
<rect x="57.55" y="305.25" width="19.70" height="74.50" fill="none" stroke="#22427F" stroke-width="0.7"/>
<rect x="57.2" y="380.1" width="20.4" height="36.19999999999999" fill="#DB8A16"/>
<rect x="57.55" y="380.45" width="19.70" height="35.50" fill="none" stroke="#E8920E" stroke-width="0.7"/>
<rect x="105.5" y="296.9" width="20.5" height="8.1" fill="#C5C3C8"/>
<rect x="105.85" y="297.25" width="19.80" height="7.40" fill="none" stroke="#C0BEC3" stroke-width="0.7"/>
<rect x="105.5" y="305.0" width="20.5" height="0.9" fill="#E6E2E2"/>
<rect x="105.5" y="305.9" width="20.5" height="66.60000000000002" fill="#2E4C7D"/>
<rect x="105.85" y="306.25" width="19.80" height="65.90" fill="none" stroke="#22427F" stroke-width="0.7"/>
<rect x="105.5" y="372.5" width="20.5" height="43.80000000000001" fill="#DB8A16"/>
<rect x="105.85" y="372.85" width="19.80" height="43.10" fill="none" stroke="#E8920E" stroke-width="0.7"/>
<rect x="140.4" y="344.7" width="3.2" height="3.2" fill="#C5C3C8"/>
<text x="146.8" y="348.40000000000003" font-size="6.0" text-anchor="start" font-weight="normal" fill="#231F20" textLength="29.0" lengthAdjust="spacingAndGlyphs" stroke="#231F20" stroke-width="0.15">Unclassified</text>
<rect x="140.4" y="355.15" width="3.2" height="3.2" fill="#2E4C7D"/>
<text x="146.8" y="358.85" font-size="6.0" text-anchor="start" font-weight="normal" fill="#231F20" textLength="30.6" lengthAdjust="spacingAndGlyphs" stroke="#231F20" stroke-width="0.15">PTCL-TBX21</text>
<rect x="140.4" y="365.59999999999997" width="3.2" height="3.2" fill="#DB8A16"/>
<text x="146.8" y="369.3" font-size="6.0" text-anchor="start" font-weight="normal" fill="#231F20" textLength="31.7" lengthAdjust="spacingAndGlyphs" stroke="#231F20" stroke-width="0.15">PTCL-GATA3</text>
<text x="67.4" y="428.9" font-size="6.9" text-anchor="middle" font-weight="normal" fill="#231F20" textLength="22.9" lengthAdjust="spacingAndGlyphs" stroke="#231F20" stroke-width="0.15">Training</text>
<text x="67.4" y="436.5" font-size="6.9" text-anchor="middle" font-weight="normal" fill="#231F20" textLength="20.4" lengthAdjust="spacingAndGlyphs" stroke="#231F20" stroke-width="0.15">Cohort</text>
<text x="67.4" y="444.09999999999997" font-size="6.9" text-anchor="middle" font-weight="normal" fill="#231F20" textLength="14.7" lengthAdjust="spacingAndGlyphs" stroke="#231F20" stroke-width="0.15">n=49</text>
<text x="115.7" y="428.9" font-size="6.9" text-anchor="middle" font-weight="normal" fill="#231F20" textLength="29.1" lengthAdjust="spacingAndGlyphs" stroke="#231F20" stroke-width="0.15">Validation</text>
<text x="115.7" y="436.5" font-size="6.9" text-anchor="middle" font-weight="normal" fill="#231F20" textLength="20.4" lengthAdjust="spacingAndGlyphs" stroke="#231F20" stroke-width="0.15">Cohort</text>
<text x="115.7" y="444.09999999999997" font-size="6.9" text-anchor="middle" font-weight="normal" fill="#231F20" textLength="18.8" lengthAdjust="spacingAndGlyphs" stroke="#231F20" stroke-width="0.15">n=124</text>
<rect x="0.5" y="0.5" width="519" height="452" fill="none" stroke="#000" stroke-width="1.2"/>
</svg>
</body></html>
